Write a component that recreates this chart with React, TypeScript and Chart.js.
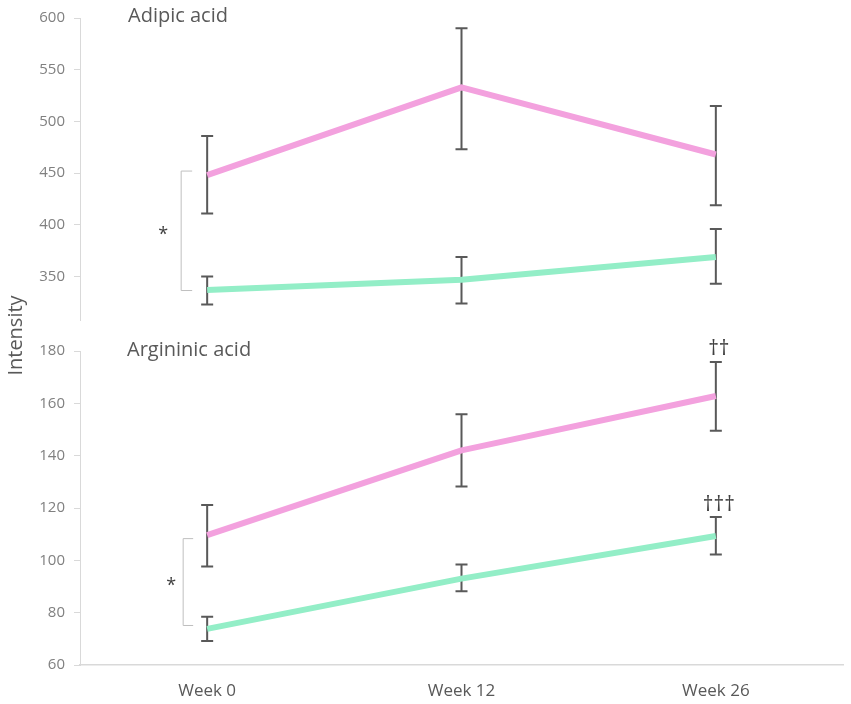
import React, { useEffect, useRef } from "react";
import { Chart, registerables } from "chart.js";

Chart.register(...registerables);

// categories
const weeks = ["Week 0", "Week 12", "Week 26"];

// Adipic acid (top panel)
const adipicPink = [448, 533, 468];
const adipicPinkLow = [411, 473, 419];
const adipicPinkHigh = [486, 590, 515];
const adipicGreen = [337, 347, 369];
const adipicGreenLow = [323, 324, 343];
const adipicGreenHigh = [350, 369, 396];

// Argininic acid (bottom panel)
const argininicPink = [109.6, 142, 162.8];
const argininicPinkLow = [97.6, 128.2, 149.5];
const argininicPinkHigh = [121.1, 155.8, 175.8];
const argininicGreen = [73.8, 93, 109.3];
const argininicGreenLow = [69.2, 88.2, 102.2];
const argininicGreenHigh = [78.4, 98.4, 116.6];

// significance brackets at week 0 (value range on each panel)
const adipicBracket = [452, 336.5];
const argininicBracket = [108.3, 75.1];

const PINK = "#F3A1DE";
const GREEN = "#93EEC7";
const FONT = "'Open Sans', sans-serif";

const errorSets = [
  { axis: "yTop", low: adipicPinkLow, high: adipicPinkHigh },
  { axis: "yTop", low: adipicGreenLow, high: adipicGreenHigh },
  { axis: "yBot", low: argininicPinkLow, high: argininicPinkHigh },
  { axis: "yBot", low: argininicGreenLow, high: argininicGreenHigh },
];

const annotate = {
  id: "annotate",
  beforeDatasetsDraw(chart: any) {
    const { ctx } = chart;
    const x = chart.scales.x;
    ctx.save();
    ctx.strokeStyle = "#595959";
    ctx.lineWidth = 2;
    errorSets.forEach((s) => {
      const y = chart.scales[s.axis];
      s.low.forEach((lo, i) => {
        const px = x.getPixelForValue(i);
        const y1 = y.getPixelForValue(lo);
        const y2 = y.getPixelForValue(s.high[i]);
        ctx.beginPath();
        ctx.moveTo(px, y1);
        ctx.lineTo(px, y2);
        ctx.moveTo(px - 6, y1);
        ctx.lineTo(px + 6, y1);
        ctx.moveTo(px - 6, y2);
        ctx.lineTo(px + 6, y2);
        ctx.stroke();
      });
    });
    ctx.restore();
  },
  afterDraw(chart: any) {
    const { ctx } = chart;
    const x = chart.scales.x;
    const yTop = chart.scales.yTop;
    const yBot = chart.scales.yBot;
    ctx.save();

    // panel titles
    ctx.fillStyle = "#595959";
    ctx.font = `20px ${FONT}`;
    ctx.textAlign = "left";
    ctx.textBaseline = "middle";
    ctx.fillText("Adipic acid", 128, yTop.top - 2);
    ctx.fillText("Argininic acid", 127, yBot.top - 1);

    // brackets + stars
    const x0 = x.getPixelForValue(0);
    const drawBracket = (scale: any, vals: number[], left: number, right: number, starX: number) => {
      const a = scale.getPixelForValue(vals[0]);
      const b = scale.getPixelForValue(vals[1]);
      ctx.strokeStyle = "#BFBFBF";
      ctx.lineWidth = 1;
      ctx.beginPath();
      ctx.moveTo(x0 + right, a);
      ctx.lineTo(x0 + left, a);
      ctx.lineTo(x0 + left, b);
      ctx.lineTo(x0 + right, b);
      ctx.stroke();
      ctx.fillStyle = "#404040";
      ctx.font = `18px ${FONT}`;
      ctx.textAlign = "center";
      ctx.textBaseline = "middle";
      ctx.fillText("*", x0 + starX, (a + b) / 2 + 4);
    };
    drawBracket(yTop, adipicBracket, -26, -15, -44);
    drawBracket(yBot, argininicBracket, -24, -14, -36);

    // daggers at week 26
    const x2 = x.getPixelForValue(2);
    ctx.fillStyle = "#404040";
    ctx.font = `21px ${FONT}`;
    ctx.textAlign = "center";
    ctx.textBaseline = "bottom";
    ctx.fillText("††", x2 + 3, yBot.getPixelForValue(argininicPinkHigh[2]) - 2);
    ctx.fillText("†††", x2 + 3, yBot.getPixelForValue(argininicGreenHigh[2]) - 1);
    ctx.restore();
  },
};

const line = (data: number[], color: string, axis: string) => ({
  data,
  yAxisID: axis,
  borderColor: color,
  backgroundColor: color,
  borderWidth: 6,
  pointRadius: 0,
  tension: 0,
  borderJoinStyle: "round" as const,
});

const yAxisBase = (min: number, max: number, step: number, weight: number) => ({
  type: "linear" as const,
  position: "left" as const,
  stack: "panels",
  stackWeight: weight,
  min,
  max,
  border: { display: true, color: "#D9D9D9", width: 1 },
  grid: { display: true, drawOnChartArea: false, drawTicks: true, tickLength: 6, color: "#D9D9D9" },
  ticks: { stepSize: step, includeBounds: false, padding: 9, color: "#808080", font: { family: FONT, size: 15 } },
  afterFit: (s: any) => {
    s.width = 80;
  },
});

const App: React.FC = () => {
  const canvasRef = useRef<HTMLCanvasElement | null>(null);

  useEffect(() => {
    if (!canvasRef.current) return;
    const chart = new Chart(canvasRef.current, {
      type: "line",
      data: {
        labels: weeks,
        datasets: [
          line(adipicPink, PINK, "yTop"),
          line(adipicGreen, GREEN, "yTop"),
          line(argininicPink, PINK, "yBot"),
          line(argininicGreen, GREEN, "yBot"),
        ],
      },
      options: {
        responsive: true,
        maintainAspectRatio: false,
        animation: false,
        layout: { padding: { top: 18, right: 8, bottom: 0, left: 0 } },
        plugins: { legend: { display: false }, tooltip: { enabled: false } },
        scales: {
          x: {
            offset: true,
            border: { display: true, color: "#D9D9D9", width: 1.5 },
            grid: { display: false },
            ticks: { padding: 8, color: "#595959", font: { family: FONT, size: 17 } },
            afterFit: (s: any) => {
              s.height = 39;
            },
          },
          yBot: yAxisBase(60, 180, 20, 314),
          ySpace: {
            type: "linear",
            position: "left",
            stack: "panels",
            stackWeight: 31,
            min: 0,
            max: 1,
            border: { display: false },
            grid: { display: false },
            ticks: { display: false },
            title: { display: true, text: "Intensity", color: "#595959", font: { family: FONT, size: 20 } },
            afterFit: (s: any) => {
              s.width = 80;
            },
          },
          yTop: yAxisBase(308, 600, 50, 302),
        },
      },
      plugins: [annotate],
    });
    return () => chart.destroy();
  }, []);

  return (
    <div style={{ position: "fixed", left: 0, top: 0, width: 851, height: 704, background: "#fff" }}>
      <canvas ref={canvasRef} />
    </div>
  );
};

export default App;
